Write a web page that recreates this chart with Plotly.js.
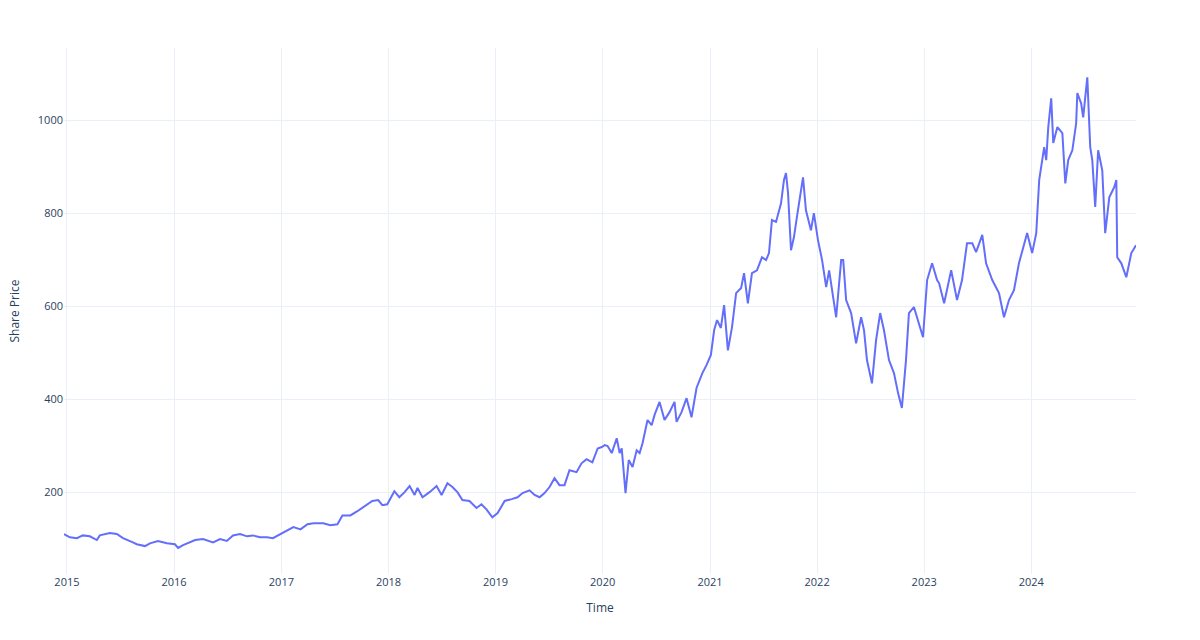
<!DOCTYPE html>
<html>
<head>
<meta charset="utf-8">
<script src="https://cdn.plot.ly/plotly-3.0.1.min.js"></script>
<style>html,body{margin:0;padding:0;background:#fff;}#chart{width:1200px;height:640px;}</style>
</head>
<body>
<div id="chart"></div>
<script>
const dates = [
'2014-12-22','2015-01-11','2015-02-04','2015-02-24','2015-03-20','2015-04-13','2015-04-23','2015-05-27','2015-06-20','2015-07-11',
'2015-08-14','2015-08-27','2015-09-24','2015-10-11','2015-11-07','2015-12-08','2016-01-04','2016-01-15','2016-02-01','2016-02-18',
'2016-03-13','2016-04-09','2016-05-13','2016-06-06','2016-06-29','2016-07-20','2016-08-13','2016-09-06','2016-09-26','2016-10-20',
'2016-11-13','2016-12-03','2016-12-28','2017-01-21','2017-02-11','2017-03-07','2017-03-31','2017-04-20','2017-05-24','2017-06-17',
'2017-07-11','2017-07-28','2017-08-24','2017-09-17','2017-10-07','2017-11-07','2017-11-27','2017-12-11','2017-12-28','2018-01-21',
'2018-02-07','2018-02-25','2018-03-14','2018-03-31','2018-04-10','2018-04-27','2018-05-21','2018-06-14','2018-07-01','2018-07-21',
'2018-08-07','2018-08-24','2018-09-10','2018-10-04','2018-10-28','2018-11-14','2018-12-01','2018-12-21','2019-01-08','2019-02-01',
'2019-02-25','2019-03-17','2019-04-03','2019-04-27','2019-05-14','2019-05-31','2019-06-17','2019-07-04','2019-07-21','2019-08-07',
'2019-08-24','2019-09-10','2019-10-04','2019-10-21','2019-11-07','2019-11-27','2019-12-15','2019-12-29','2020-01-08','2020-01-18',
'2020-02-01','2020-02-18','2020-02-28','2020-03-06','2020-03-19','2020-03-30','2020-04-12','2020-04-26','2020-05-06','2020-05-16',
'2020-06-02','2020-06-16','2020-06-26','2020-07-13','2020-07-30','2020-08-16','2020-09-02','2020-09-09','2020-09-26','2020-10-13',
'2020-10-30','2020-11-16','2020-12-06','2020-12-20','2021-01-04','2021-01-15','2021-01-25','2021-02-07','2021-02-18','2021-03-03',
'2021-03-17','2021-03-31','2021-04-17','2021-04-27','2021-05-10','2021-05-24','2021-06-10','2021-06-27','2021-07-11','2021-07-21',
'2021-07-31','2021-08-14','2021-08-31','2021-09-10','2021-09-17','2021-09-24','2021-10-04','2021-10-14','2021-10-24','2021-11-07',
'2021-11-14','2021-11-24','2021-12-11','2021-12-21','2022-01-04','2022-01-18','2022-02-01','2022-02-11','2022-02-21','2022-03-07',
'2022-03-24','2022-03-31','2022-04-10','2022-04-27','2022-05-14','2022-05-31','2022-06-10','2022-06-20','2022-07-07','2022-07-21',
'2022-08-04','2022-08-17','2022-09-03','2022-09-20','2022-10-04','2022-10-17','2022-10-31','2022-11-10','2022-11-27','2022-12-14',
'2022-12-28','2023-01-11','2023-01-28','2023-02-14','2023-02-21','2023-03-10','2023-04-03','2023-04-23','2023-05-10','2023-05-27',
'2023-06-14','2023-06-27','2023-07-18','2023-07-31','2023-08-21','2023-09-13','2023-09-30','2023-10-17','2023-11-03','2023-11-20',
'2023-12-18','2024-01-04','2024-01-18','2024-01-28','2024-02-14','2024-02-21','2024-02-28','2024-03-09','2024-03-16','2024-03-30',
'2024-04-16','2024-04-26','2024-05-06','2024-05-20','2024-06-02','2024-06-06','2024-06-19','2024-06-26','2024-07-10','2024-07-20',
'2024-07-27','2024-08-06','2024-08-16','2024-08-30','2024-09-09','2024-09-23','2024-10-10','2024-10-17','2024-10-20','2024-11-03',
'2024-11-20','2024-12-07','2024-12-23'
];
const sharePrice = [
110,103,101,107,105,97,107,112,110,101,
92,88,84,90,95,90,88,80,86,90,
97,99,92,99,95,107,110,105,107,103,
103,101,110,118,125,120,131,133,133,129,
131,150,150,159,168,181,183,172,174,202,
189,200,213,194,209,189,200,213,194,219,
211,200,183,181,166,174,163,146,155,181,
185,189,198,204,194,189,198,211,230,215,
215,247,243,262,271,264,294,297,301,299,
284,316,284,294,198,269,254,290,284,305,
355,344,366,394,355,372,394,351,372,402,
361,424,456,473,495,548,570,553,602,505,
555,628,639,671,606,671,677,705,699,714,
785,781,821,871,886,843,720,748,791,843,
877,806,763,800,742,699,641,677,634,576,
699,699,613,585,520,576,548,484,434,527,
585,548,484,456,413,381,484,585,598,563,
533,656,692,656,649,606,677,613,656,735,
735,716,753,692,656,628,576,613,634,692,
757,714,757,871,942,914,985,1047,951,985,
972,864,914,935,993,1058,1036,1006,1092,942,
914,813,935,892,757,834,856,871,705,692,
662,714,731
];
const xTitle = 'Time';
const yTitle = 'Share Price';

const fontColor = '#2a3f5f';
const gridColor = '#EBF0F8';

Plotly.newPlot('chart', [{
  type: 'scatter',
  mode: 'lines',
  x: dates,
  y: sharePrice,
  line: {color: '#636efa', width: 2},
  showlegend: false
}], {
  width: 1200,
  height: 640,
  margin: {l: 64, r: 64, t: 48, b: 66},
  paper_bgcolor: '#fff',
  plot_bgcolor: '#fff',
  font: {family: '"Open Sans", verdana, arial, sans-serif', size: 11, color: fontColor},
  xaxis: {
    type: 'date',
    title: {text: xTitle, font: {size: 12, color: fontColor}, standoff: 15},
    tickfont: {size: 11},
    gridcolor: gridColor,
    zeroline: false,
    showline: false,
    ticks: '',
    dtick: 'M12',
    tickformat: '%Y',
    tick0: '2015-01-01'
  },
  yaxis: {
    title: {text: yTitle, font: {size: 12, color: fontColor}, standoff: 15},
    tickfont: {size: 11},
    range: [24, 1155],
    gridcolor: gridColor,
    zeroline: false,
    showline: false,
    ticks: '',
    dtick: 200
  }
}, {displayModeBar: false, staticPlot: true});
</script>
</body>
</html>
